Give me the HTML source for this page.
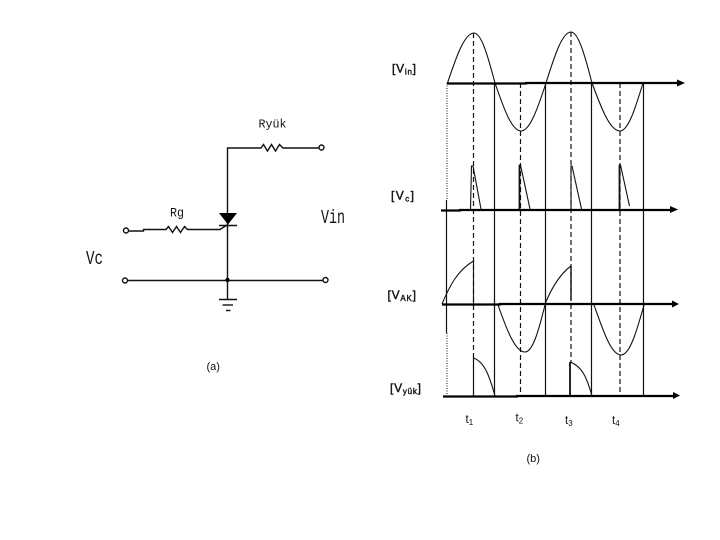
<!DOCTYPE html>
<html>
<head>
<meta charset="utf-8">
<style>
html,body{margin:0;padding:0;background:#fff;width:720px;height:540px;overflow:hidden}
svg{display:block}
text{fill:#111}
.s{font-family:"Liberation Sans",sans-serif}
.m{font-family:"Liberation Mono",monospace}
</style>
</head>
<body>
<svg width="720" height="540" viewBox="0 0 720 540" xmlns="http://www.w3.org/2000/svg">
<!-- circuit (a) -->
<g fill="none" stroke="#111" stroke-width="1.4">
<path d="M227.500 300V148H261l2.500-3.500 4 6.500 4-6.500 4 6.500 4-6.500 3.500 3.500H319"/>
<path d="M128.500 231H143.500V229.500H166l2.500-3 4 6 4-6 4 6 4-6 3 3H220L227 225"/>
<path d="M127.500 280.500H323"/>
<circle cx="321.500" cy="147.500" r="2.500"/>
<circle cx="126" cy="230.500" r="2.500"/>
<circle cx="125" cy="280.500" r="2.500"/>
<circle cx="325.500" cy="280" r="2.500"/>
<path d="M219 225.500H237"/>
<path d="M219 299.500H237"/>
<path d="M222.500 305H233"/>
<path d="M226 310.500H230.500"/>
</g>
<path d="M219 213H237L228 224.500Z" fill="#000"/>
<circle cx="227.500" cy="280" r="2.200" fill="#000"/>
<text class="m" x="258.500" y="127.500" font-size="12" textLength="28" lengthAdjust="spacingAndGlyphs">Ryük</text>
<text class="m" x="170" y="216.500" font-size="13" textLength="14" lengthAdjust="spacingAndGlyphs">Rg</text>
<text class="m" x="321" y="223" font-size="19" textLength="24" lengthAdjust="spacingAndGlyphs">Vin</text>
<text class="m" x="86" y="264" font-size="19" textLength="17" lengthAdjust="spacingAndGlyphs">Vc</text>
<text class="s" x="206.500" y="370" font-size="11">(a)</text>

<!-- vertical guide lines -->
<g fill="none" stroke="#111" stroke-width="1.200">
<path d="M447 83V200" stroke-dasharray="1 1.500" stroke-width="1"/>
<path d="M446.500 200V333"/>
<path d="M447 333V396" stroke-dasharray="1 1.500" stroke-width="1"/>
<path d="M494.500 83V396M545.500 83V396M591.500 83V396M643.500 83V396"/>
<path d="M473.500 33V358M520.500 83V396M571 32V362M620 83V396" stroke-dasharray="5 3"/>
<path d="M473.500 358V396"/>
<path d="M570 362V396" stroke-width="1.800"/>
<path d="M571 266V300" stroke-width="1.400"/>
</g>

<!-- waveforms -->
<g fill="none" stroke="#111" stroke-width="1.100">
<path d="M447.500 83C456.100 57.400 464.400 33 474 33C481.600 33 488.200 57.400 495 83C503.500 107.600 511.600 131 521 131C530 131 537.900 107.600 546 83C554.200 56.900 562 32 571 32C578.600 32 585.200 56.900 592 83C601.100 107.600 609.900 131 620 131C628.300 131 635.500 107.600 643 83"/>
<path d="M470.500 210L471.500 166H473L481 209"/>
<path d="M519.500 210V165H520.500L530 209"/>
<path d="M571 210V166H572L581.500 209"/>
<path d="M619.500 210V165H620.500L629.500 206"/>
<path d="M442 304C450 285 458 270 473.500 261V304"/>
<path d="M498 305C506.500 329 515 352 525 352C533 352 539 329 545 305"/>
<path d="M545 304C552 287 560 274 571 266"/>
<path d="M594 305C603 330 611 355 621 355C630 355 637 330 644 305"/>
<path d="M473.500 358C485 362 490 378 495 396"/>
<path d="M570 362C582 366 587 378 592 396"/>
</g>
<g fill="none" stroke="#111" stroke-width="1.800">
<path d="M519.500 210V165M619.500 210V165"/>
</g>

<!-- axes -->
<g fill="none" stroke="#000" stroke-width="2.200">
<path d="M447 83.500H526V83H680"/>
<path d="M441 210.500H460V210H672"/>
<path d="M442 304.500H500V304H675"/>
<path d="M443 396.500H517V396H675"/>
</g>
<g fill="#000">
<path d="M685 83L677 79.500V86.500Z"/>
<path d="M678 209.500L670 206V213Z"/>
<path d="M679 304L672 300.500V307.500Z"/>
<path d="M680 395.500L673 392V399Z"/>
</g>

<!-- labels -->
<g stroke="#111" stroke-width=".4">
<text class="s" x="392" y="72.500" font-size="12" textLength="24" lengthAdjust="spacing">[V<tspan font-size="8" dy="2">in</tspan><tspan dy="-2">]</tspan></text>
<text class="s" x="391" y="199.500" font-size="12" textLength="23" lengthAdjust="spacing">[V<tspan font-size="8" dy="2">c</tspan><tspan dy="-2">]</tspan></text>
<text class="s" x="387.500" y="299" font-size="12" textLength="28.500" lengthAdjust="spacing">[V<tspan font-size="8" dy="2">AK</tspan><tspan dy="-2">]</tspan></text>
<text class="s" x="390" y="392" font-size="12" textLength="31" lengthAdjust="spacing">[V<tspan font-size="8" dy="2">yük</tspan><tspan dy="-2">]</tspan></text>
</g>
<text class="s" x="465.500" y="423" font-size="11.500">t<tspan font-size="8" dy="2">1</tspan></text>
<text class="s" x="515.500" y="421.500" font-size="11.500">t<tspan font-size="8" dy="2">2</tspan></text>
<text class="s" x="565" y="424" font-size="11.500">t<tspan font-size="8" dy="2">3</tspan></text>
<text class="s" x="612" y="424" font-size="11.500">t<tspan font-size="8" dy="2">4</tspan></text>
<text class="s" x="526.500" y="462" font-size="11">(b)</text>
</svg>
</body>
</html>
